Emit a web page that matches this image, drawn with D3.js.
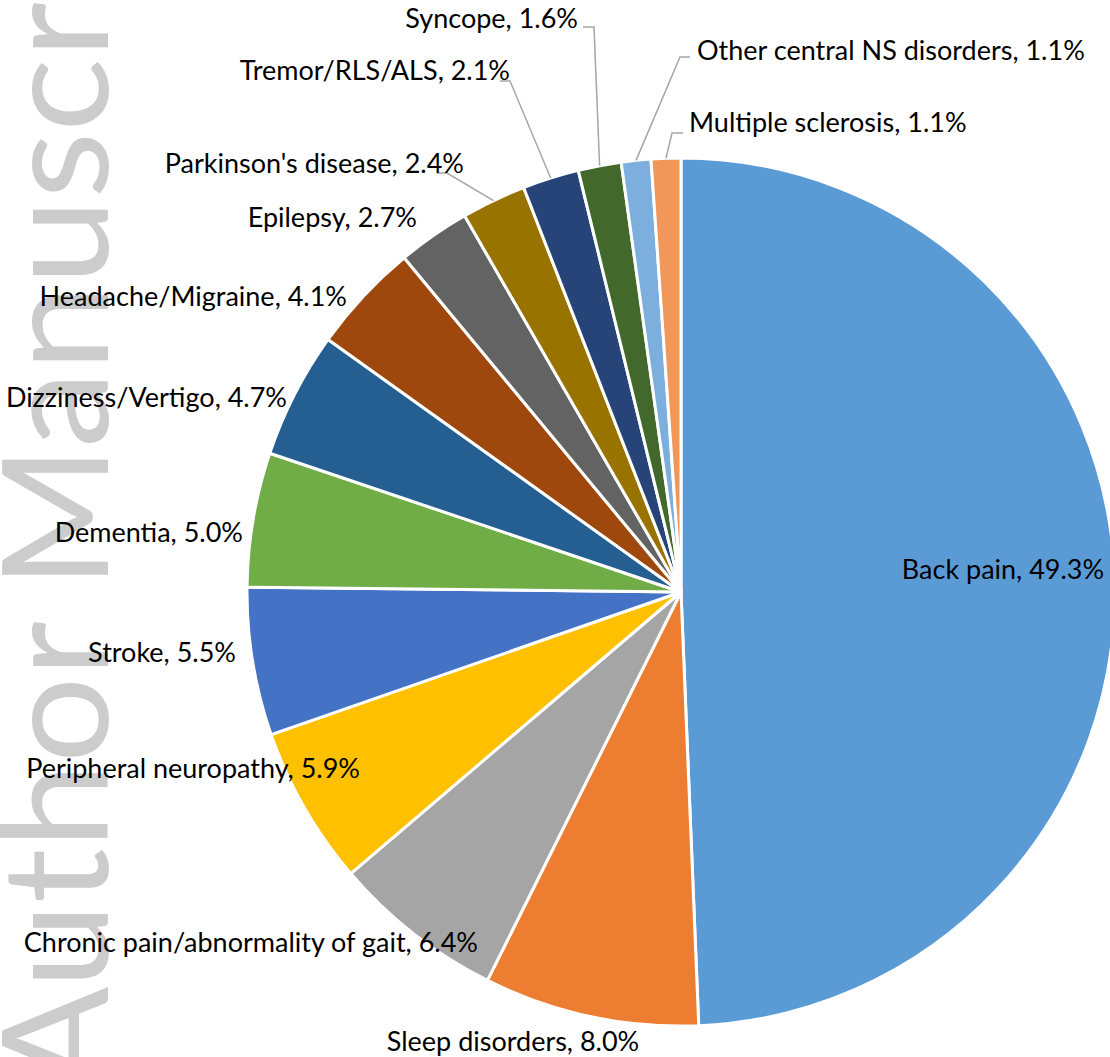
<!DOCTYPE html>
<html>
<head>
<meta charset="utf-8">
<script src="https://cdn.jsdelivr.net/npm/d3@7"></script>
<style>
  html, body { margin: 0; padding: 0; background: #fff; }
  svg { display: block; }
</style>
</head>
<body>
<svg id="chart" width="1110" height="1057"></svg>
<script>
// ---- data ----
const categories = [
  "Back pain", "Sleep disorders", "Chronic pain/abnormality of gait",
  "Peripheral neuropathy", "Stroke", "Dementia", "Dizziness/Vertigo",
  "Headache/Migraine", "Epilepsy", "Parkinson's disease", "Tremor/RLS/ALS",
  "Syncope", "Other central NS disorders", "Multiple sclerosis"
];
const values = [49.3, 8.0, 6.4, 5.9, 5.5, 5.0, 4.7, 4.1, 2.7, 2.4, 2.1, 1.6, 1.1, 1.1];
const colors = [
  "#5B9BD5", "#ED7D31", "#A5A5A5", "#FFC000", "#4472C4", "#70AD47", "#255E91",
  "#9E480E", "#636363", "#997300", "#264478", "#43682B", "#7CAFDD", "#F1975A"
];

// ---- label layout (anchor, x, baseline y) ----
const labelAnchor = ["middle","middle","end","end","end","end","end","end","end","end","end","end","start","start"];
const labelX = [1003, 513, 478, 360, 236, 243, 287, 347, 417, 464, 510, 578, 697, 689];
const labelY = [579, 1051, 952, 778, 662, 542, 407, 306, 227, 173, 80, 28, 60, 132];
// leader elbows: [start x, elbow x, y]
const leaders = {
  9:  [437, 447, 173],
  10: [500, 510, 81],
  11: [583, 594, 27],
  12: [690, 680, 57],
  13: [683, 672, 133]
};

// watermark pieces
const watermarkWords = ["Author", "Manuscript"];

const svg = d3.select("#chart");
const cx = 681, cy = 592, R = 434;

// watermark (vertical, reading bottom to top)
const wmStart = [1090, 589];
const wmLen = [469, 765];
watermarkWords.forEach((w, i) => {
  svg.append("text")
    .attr("transform", `translate(108, ${wmStart[i]}) rotate(-90)`)
    .attr("font-family", "Lato, 'Open Sans', sans-serif")
    .attr("font-weight", 400)
    .attr("font-size", 148)
    .attr("fill", "#cccccc")
    .attr("textLength", wmLen[i])
    .attr("lengthAdjust", "spacingAndGlyphs")
    .text(w);
});

const pie = d3.pie().sort(null).value(d => d);
const arcs = pie(values);
const arc = d3.arc().innerRadius(0).outerRadius(R);

const g = svg.append("g").attr("transform", `translate(${cx},${cy})`);
g.selectAll("path.slice")
  .data(arcs)
  .join("path")
  .attr("class", "slice")
  .attr("d", arc)
  .attr("fill", (d, i) => colors[i])
  .attr("stroke", "#fff")
  .attr("stroke-width", 3)
  .attr("stroke-linejoin", "round");

// leader lines
Object.keys(leaders).forEach(k => {
  const i = +k;
  const a = arcs[i];
  const mid = (a.startAngle + a.endAngle) / 2;
  const px = cx + R * Math.sin(mid);
  const py = cy - R * Math.cos(mid);
  const [x0, x1, y] = leaders[k];
  svg.append("polyline")
    .attr("points", `${x0},${y} ${x1},${y} ${px},${py}`)
    .attr("fill", "none")
    .attr("stroke", "#a6a6a6")
    .attr("stroke-width", 1.5);
});

// labels
svg.selectAll("text.lbl")
  .data(arcs)
  .join("text")
  .attr("class", "lbl")
  .attr("x", (d, i) => labelX[i])
  .attr("y", (d, i) => labelY[i])
  .attr("text-anchor", (d, i) => labelAnchor[i])
  .attr("font-family", "Lato, 'Open Sans', sans-serif")
  .attr("font-size", 27)
  .attr("fill", "#000")
  .text((d, i) => `${categories[i]}, ${values[i].toFixed(1)}%`);
</script>
</body>
</html>
